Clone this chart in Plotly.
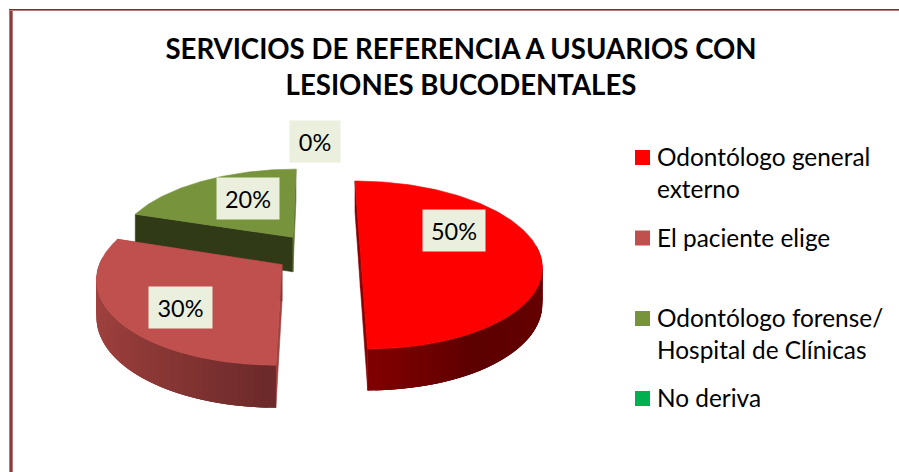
"""3D exploded pie of referral services, drawn with Plotly polygons."""

import math

import plotly.graph_objects as go

TITLE = "SERVICIOS DE REFERENCIA A USUARIOS CON<br>LESIONES BUCODENTALES"
CATEGORIES = [
    "Odontólogo general<br>externo",
    "El paciente elige",
    "Odontólogo forense/<br>Hospital de Clínicas",
    "No deriva",
]
VALUES = [50, 30, 20, 0]
COLORS = ["#ff0000", "#c0504d", "#77933c", "#00b050"]

# wall shading: left end, middle, right end of the outer wall
WALL_SHADES = [
    ((128, 0, 0), (92, 0, 0), (102, 0, 0)),
    ((162, 66, 64), (135, 54, 52), (108, 42, 42)),
    ((48, 58, 22), (48, 58, 22), (48, 58, 22)),
    ((0, 80, 40), (0, 80, 40), (0, 80, 40)),
]
START_FACE = ["#8a0000", "#a04240", "#303a16", "#00602f"]
END_FACE = ["#8a0000", "#8a3836", "#5f7630", "#00602f"]

# pie projection, in page pixels
CENTER_X, CENTER_Y = 317.5, 252.8
RADIUS_X, RADIUS_Y = 179, 82.2
PERSPECTIVE = 0.145
EXPLODE = 0.24
DEPTH = 35.5

# data label boxes: centre x, centre y, width
LABEL_BOXES = [(454, 230.5, 62), (180.5, 307.5, 63), (248, 198.5, 62), (315, 141.5, 50)]
LEGEND_Y = [157.5, 238, 318.5, 398.5]
LEGEND_X = 642.5
FONT = "Lato"


def project(u, v, drop=0.0):
    w = 1 / (1 - PERSPECTIVE * v)
    return CENTER_X + RADIUS_X * u * w, CENTER_Y + (RADIUS_Y * v + DEPTH * drop) * w


def slice_point(angle, off_u, off_v, drop=0.0):
    rad = math.radians(angle)
    return project(off_u + math.sin(rad), off_v - math.cos(rad), drop)


def add_polygon(fig, points, color, outline=0.6):
    xs = [p[0] for p in points] + [points[0][0]]
    ys = [p[1] for p in points] + [points[0][1]]
    fig.add_trace(
        go.Scatter(
            x=xs, y=ys, mode="lines", fill="toself", fillcolor=color,
            line=dict(color=color, width=outline), showlegend=False, hoverinfo="skip",
        )
    )


def wall_color(shades, t):
    left, mid, right = shades
    a, b, f = (left, mid, t * 2) if t < 0.5 else (mid, right, t * 2 - 1)
    return "rgb(%d,%d,%d)" % tuple(round(a[i] + (b[i] - a[i]) * f) for i in range(3))


def add_slice(fig, start, end, index):
    mid = math.radians((start + end) / 2)
    off_u, off_v = EXPLODE * math.sin(mid), -EXPLODE * math.cos(mid)
    apex, apex_low = project(off_u, off_v), project(off_u, off_v, 1)

    # the two cut faces
    for angle, color in ((start, START_FACE[index]), (end, END_FACE[index])):
        add_polygon(
            fig,
            [apex, slice_point(angle, off_u, off_v), slice_point(angle, off_u, off_v, 1), apex_low],
            color,
        )

    # outer wall, only the part that faces the viewer; strips overlap to hide seams
    lo, hi = max(start, 85), min(end, 275)
    if hi > lo:
        steps = int((hi - lo) / 2)
        cuts_a = [lo + (hi - lo) * i / steps for i in range(steps + 1)]
        sines = [math.sin(math.radians(a)) for a in cuts_a]
        low, high = min(sines), max(sines)
        order = range(steps) if index == 0 else range(steps - 1, -1, -1)
        for i in order:
            a0, a1 = cuts_a[max(i - 1, 0)], cuts_a[min(i + 2, steps)]
            t = (math.sin(math.radians((cuts_a[i] + cuts_a[i + 1]) / 2)) - low) / (high - low)
            add_polygon(
                fig,
                [
                    slice_point(a0, off_u, off_v), slice_point(a1, off_u, off_v),
                    slice_point(a1, off_u, off_v, 1), slice_point(a0, off_u, off_v, 1),
                ],
                wall_color(WALL_SHADES[index], t),
                outline=0,
            )

    # top face
    steps = max(int(end - start), 1)
    arc = [slice_point(start + (end - start) * i / steps, off_u, off_v) for i in range(steps + 1)]
    add_polygon(fig, [apex] + arc, COLORS[index])


fig = go.Figure()

cuts = [0]
for value in VALUES:
    cuts.append(cuts[-1] + value * 3.6)
for index in (2, 1, 0):
    add_slice(fig, cuts[index], cuts[index + 1], index)

# legend swatches and texts
for name, color, y in zip(CATEGORIES, COLORS, LEGEND_Y):
    fig.add_trace(
        go.Scatter(
            x=[LEGEND_X], y=[y], mode="markers", name=name.replace("<br>", " "),
            marker=dict(symbol="square", size=15, color=color), showlegend=False, hoverinfo="name",
        )
    )
    for row, line in enumerate(name.split("<br>")):
        fig.add_annotation(
            x=654.5, y=y - 1 + row * 31.5, text=line, xanchor="left", yanchor="middle", showarrow=False,
            font=dict(family=FONT, size=24.4, color="#000000"),
        )

# data labels
for value, (x, y, width) in zip(VALUES, LABEL_BOXES):
    fig.add_annotation(
        x=x, y=y, text=f"{value}%", showarrow=False, width=width, height=41, borderpad=0,
        bgcolor="#ebf0de", align="center", valign="middle",
        font=dict(family=FONT, size=23.5, color="#000000"),
    )

# frame: left and top rules only, with a lighter rim like the reference
fig.add_shape(type="rect", x0=9, x1=13, y0=9, y1=472, fillcolor="#b57d7b", line_width=0, layer="below")
fig.add_shape(type="rect", x0=10, x1=12, y0=9, y1=472, fillcolor="#8a3a38", line_width=0, layer="below")
fig.add_shape(type="rect", x0=9, x1=899, y0=9, y1=11, fillcolor="#b57d7b", line_width=0, layer="below")
fig.add_shape(type="rect", x0=9, x1=899, y0=9, y1=10, fillcolor="#7d2f2d", line_width=0, layer="below")

fig.update_xaxes(range=[0, 899], visible=False, fixedrange=True)
fig.update_yaxes(range=[472, 0], visible=False, fixedrange=True)
fig.update_layout(
    title=dict(
        text=TITLE, x=461 / 899, xanchor="center", y=1 - 59 / 472, yanchor="top",
        font=dict(family=FONT, size=27.6, color="#000000", weight="bold"),
    ),
    width=899,
    height=472,
    margin=dict(l=0, r=0, t=0, b=0),
    paper_bgcolor="#ffffff",
    plot_bgcolor="#ffffff",
    showlegend=False,
)

# the page's default body margin would shift everything by 8px
fig.write_html(
    "out.html",
    config=dict(displayModeBar=False),
    post_script="document.body.style.margin = '0';",
)
